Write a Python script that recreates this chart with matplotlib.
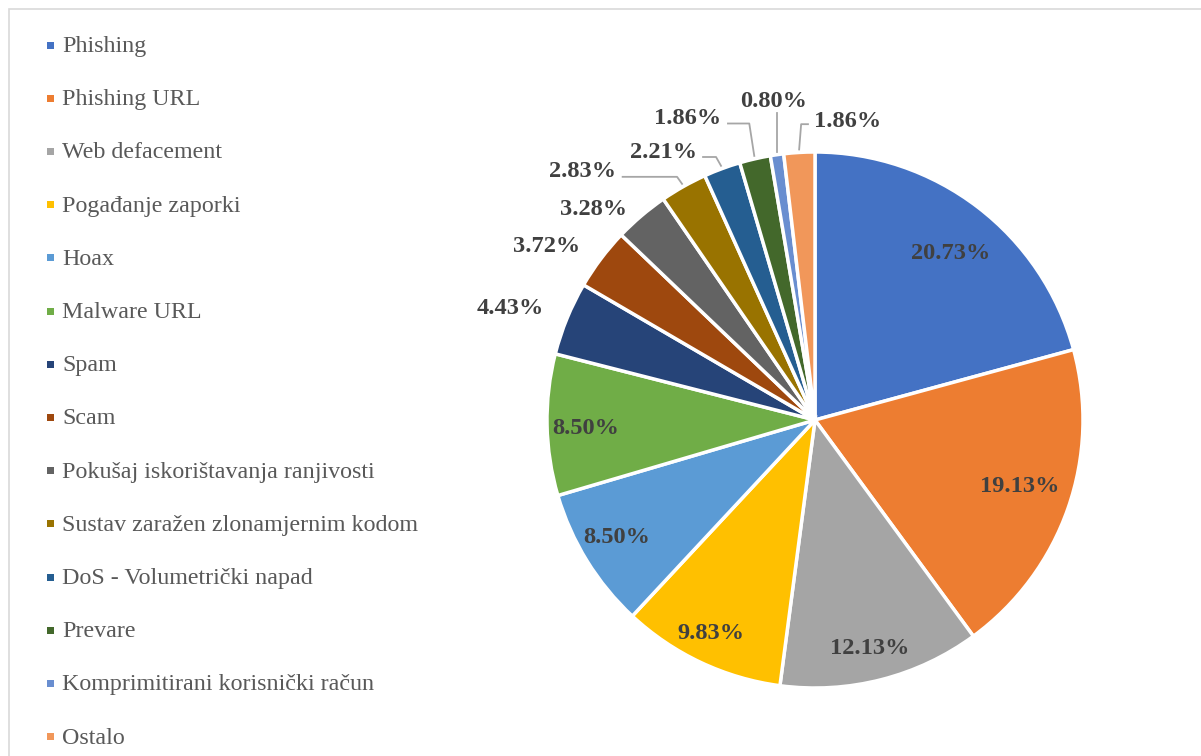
import numpy as np
import matplotlib
matplotlib.use("Agg")
import matplotlib.pyplot as plt
from matplotlib.patches import Rectangle

# kategorije incidenata
kategorije = ["Phishing", "Phishing URL", "Web defacement", "Pogađanje zaporki",
              "Hoax", "Malware URL", "Spam", "Scam",
              "Pokušaj iskorištavanja ranjivosti", "Sustav zaražen zlonamjernim kodom",
              "DoS - Volumetrički napad", "Prevare", "Komprimitirani korisnički račun",
              "Ostalo"]
postotci = [20.73, 19.13, 12.13, 9.83, 8.50, 8.50, 4.43, 3.72, 3.28, 2.83,
            2.21, 1.86, 0.80, 1.86]
boje = ["#4472C4", "#ED7D31", "#A5A5A5", "#FFC000", "#5B9BD5", "#70AD47",
        "#264478", "#9E480E", "#636363", "#997300", "#255E91", "#43682B",
        "#698ED0", "#F1975A"]

W, H = 1201, 756
plt.rcParams["font.family"] = ["Liberation Serif", "DejaVu Serif"]

fig = plt.figure(figsize=(W / 100, H / 100), dpi=100)
ax = fig.add_axes([0, 0, 1, 1])

# okvir
fig.patches.append(Rectangle((9 / W, -0.1), 1.2, (H - 9) / H + 0.1,
                             transform=fig.transFigure, fill=False,
                             edgecolor="#D9D9D9", linewidth=1.2))

cx, cy, R = 815, H - 420, 268
wedges, _ = ax.pie(postotci, colors=boje, startangle=90, counterclock=False,
                   center=(cx, cy), radius=R, frame=True,
                   wedgeprops=dict(edgecolor="white", linewidth=2.5))
ax.set_xlim(0, W)
ax.set_ylim(0, H)
ax.set_aspect("equal")
ax.axis("off")

# pozicije oznaka (u jedinicama radijusa, relativno na sredinu)
poz = [(0.507, 0.623), (0.765, -0.25), (0.205, -0.851), (-0.388, -0.795),
       (-0.739, -0.437), (-0.854, -0.03), (-1.137, 0.415), (-1.0, 0.648),
       (-0.826, 0.785), (-0.867, 0.926), (-0.567, 1.0), (-0.474, 1.125),
       (-0.156, 1.19), (0.123, 1.115)]
vodilice = {9, 10, 11, 12, 13}

for i, w in enumerate(wedges):
    kut = np.deg2rad((w.theta1 + w.theta2) / 2)
    x = cx + R * poz[i][0]
    y = cy + R * poz[i][1]
    ax.text(x, y, f"{postotci[i]:.2f}%", ha="center", va="center",
            fontsize=17.6, fontweight="bold", color="#404040")
    if i in vodilice:
        ex = cx + (R + 3) * np.cos(kut)
        ey = cy + (R + 3) * np.sin(kut)
        if i == 12:
            ax.plot([ex, ex], [ey, y - 12], color="#A6A6A6", lw=1.3)
        elif i == 13:
            ax.plot([ex, ex + 2, x - 40], [ey, y - 3, y - 3],
                    color="#A6A6A6", lw=1.3)
        else:
            ax.plot([x + 40, ex - 5, ex], [y - 5, y - 5, ey],
                    color="#A6A6A6", lw=1.3)

# legenda
for i, (k, b) in enumerate(zip(kategorije, boje)):
    y = H - (45 + 53.2 * i)
    ax.add_patch(Rectangle((47, y - 3.5), 7, 7, facecolor=b, edgecolor="none"))
    ax.text(62, y - 7, k, ha="left", va="baseline", fontsize=17.3, color="#595959")

fig.savefig("out.png", dpi=100)
